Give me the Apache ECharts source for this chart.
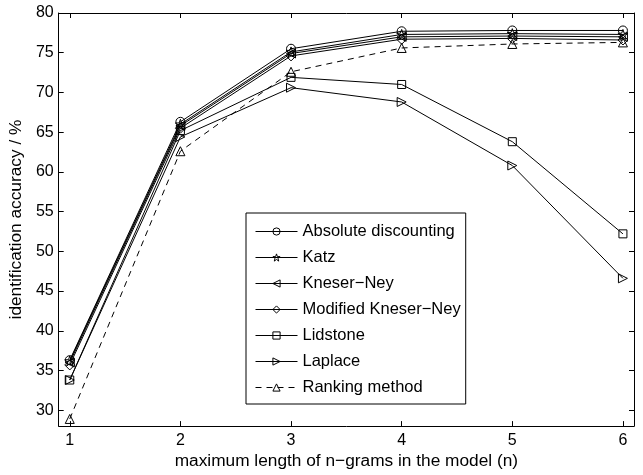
<!DOCTYPE html>
<html>
<head>
<meta charset="utf-8">
<script src="https://cdn.jsdelivr.net/npm/echarts@6/dist/echarts.min.js"></script>
<style>html,body{margin:0;padding:0;background:#fff}#c{width:643px;height:475px}</style>
</head>
<body>
<div id="c"></div>
<script>
const xValues = [1, 2, 3, 4, 5, 6];
const xTicks = [1, 2, 3, 4, 5, 6];
const yTicks = [30, 35, 40, 45, 50, 55, 60, 65, 70, 75, 80];
const absoluteDiscounting = [36.3, 66.3, 75.5, 77.7, 77.8, 77.8];
const katz = [36.2, 66.0, 75.1, 77.3, 77.4, 77.3];
const kneserNey = [36.0, 65.8, 74.9, 77.0, 77.1, 77.0];
const modifiedKneserNey = [35.7, 65.5, 74.6, 76.7, 76.8, 76.6];
const lidstone = [33.8, 65.2, 71.9, 71.0, 63.8, 52.2];
const laplace = [33.8, 64.4, 70.6, 68.8, 60.8, 46.6];
const ranking = [28.9, 62.6, 72.6, 75.6, 76.1, 76.3];

const FONT = 'Liberation Sans, Arial, Helvetica, sans-serif';
const starPath = 'path://M0,-10 L2.35,-3.24 L9.51,-3.09 L3.8,1.24 L5.88,8.09 L0,4 L-5.88,8.09 L-3.8,1.24 L-9.51,-3.09 L-2.35,-3.24 Z';

function pts(arr){ return xValues.map((x,i)=>[x, arr[i]]); }
function mk(name, data, symbol, size, rotate, dashed){
  return {
    name: name, type: 'line', data: pts(data),
    symbol: symbol, symbolSize: size, symbolRotate: rotate || 0,
    showAllSymbol: true,
    lineStyle: {color: '#000', width: 1, type: dashed ? [6, 5] : 'solid'},
    itemStyle: {color: 'rgba(255,255,255,0)', borderColor: '#000', borderWidth: 1},
    emphasis: {disabled: true},
    animation: false, z: 3
  };
}

const chart = echarts.init(document.getElementById('c'), null, {renderer: 'canvas'});
const tickCommon = {inside: true, length: 5, lineStyle: {color: '#000', width: 1}};
chart.setOption({
  animation: false,
  backgroundColor: '#fff',
  grid: {left: 58, right: 9, top: 13, bottom: 45},
  xAxis: [{
    type: 'value', min: 0.9, max: 6.1,
    name: 'maximum length of n\u2212grams in the model (n)', nameLocation: 'middle', nameGap: 24,
    nameTextStyle: {color: '#000', fontFamily: FONT, fontSize: 17.3},
    axisLine: {show: true, lineStyle: {color: '#000', width: 1}},
    axisTick: Object.assign({customValues: xTicks}, tickCommon),
    axisLabel: {customValues: xTicks, color: '#000', fontFamily: FONT, fontSize: 16, margin: 6},
    splitLine: {show: false}
  }, {
    type: 'value', min: 0.9, max: 6.1, position: 'top',
    axisLine: {show: true, lineStyle: {color: '#000', width: 1}},
    axisTick: Object.assign({customValues: xTicks}, tickCommon),
    axisLabel: {show: false}, splitLine: {show: false}
  }],
  yAxis: [{
    type: 'value', min: 28, max: 80,
    name: 'identification accuracy / %', nameLocation: 'middle', nameGap: 30,
    nameTextStyle: {color: '#000', fontFamily: FONT, fontSize: 17.3},
    axisLine: {show: true, lineStyle: {color: '#000', width: 1}},
    axisTick: Object.assign({customValues: yTicks}, tickCommon),
    axisLabel: {customValues: yTicks, color: '#000', fontFamily: FONT, fontSize: 16, margin: 5},
    splitLine: {show: false}
  }, {
    type: 'value', min: 28, max: 80, position: 'right',
    axisLine: {show: true, lineStyle: {color: '#000', width: 1}},
    axisTick: Object.assign({customValues: yTicks}, tickCommon),
    axisLabel: {show: false}, splitLine: {show: false}
  }],
  legend: {
    orient: 'vertical', left: 246, top: 213,
    padding: [10, 5, 8, 9], itemGap: 9, itemWidth: 42, itemHeight: 9,
    backgroundColor: '#fff', borderColor: '#000', borderWidth: 1, borderRadius: 0,
    lineStyle: {width: 1},
    itemStyle: {borderWidth: 1},
    textStyle: {color: '#000', fontFamily: FONT, fontSize: 16.5, lineHeight: 17},
    selectedMode: false,
    data: ['Absolute discounting', 'Katz', 'Kneser\u2212Ney', 'Modified Kneser\u2212Ney', 'Lidstone', 'Laplace', 'Ranking method']
  },
  series: [
    mk('Absolute discounting', absoluteDiscounting, 'circle', 9),
    mk('Katz', katz, starPath, 10),
    mk('Kneser\u2212Ney', kneserNey, 'triangle', 9, 90),
    mk('Modified Kneser\u2212Ney', modifiedKneserNey, 'diamond', 10),
    mk('Lidstone', lidstone, 'rect', 8),
    mk('Laplace', laplace, 'triangle', 9, -90),
    mk('Ranking method', ranking, 'triangle', 9, 0, true)
  ]
});
</script>
</body>
</html>
